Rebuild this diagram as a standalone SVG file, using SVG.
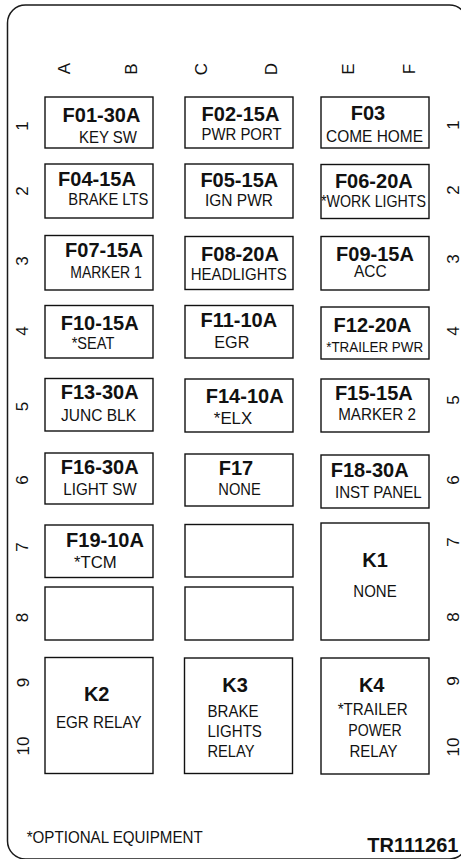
<svg xmlns="http://www.w3.org/2000/svg" width="461" height="859" viewBox="0 0 461 859">
<style>
.bg{fill:#fff}
.frame{fill:#fff;stroke:#1a1a1a;stroke-width:1.5}
.box{fill:#fff;stroke:#111;stroke-width:1.4}
text{font-family:"Liberation Sans",Arial,Helvetica,sans-serif;fill:#111}
.h{font-weight:bold;font-size:20px;text-anchor:middle}
.s{font-size:16.5px;text-anchor:middle}
.ss{font-size:14px;text-anchor:middle}
.l{font-size:16.5px}
.n{font-size:17px;text-anchor:middle}
</style>
<rect class="bg" x="0" y="0" width="461" height="859"/>
<rect class="frame" x="7.5" y="5" width="460" height="854" rx="18" ry="18"/>
<g id="col-labels">
<text class="n" transform="translate(70,68.5) rotate(-90)">A</text>
<text class="n" transform="translate(137,69) rotate(-90)">B</text>
<text class="n" transform="translate(207,69) rotate(-90)">C</text>
<text class="n" transform="translate(277,69) rotate(-90)">D</text>
<text class="n" transform="translate(354,69) rotate(-90)">E</text>
<text class="n" transform="translate(415,69) rotate(-90)">F</text>
</g>
<g id="row-labels-left">
<text class="n" transform="translate(27.5,126) rotate(-90)">1</text>
<text class="n" transform="translate(27.5,191) rotate(-90)">2</text>
<text class="n" transform="translate(27.5,261) rotate(-90)">3</text>
<text class="n" transform="translate(27.5,331) rotate(-90)">4</text>
<text class="n" transform="translate(27.5,406.5) rotate(-90)">5</text>
<text class="n" transform="translate(27.5,480) rotate(-90)">6</text>
<text class="n" transform="translate(27.5,547) rotate(-90)">7</text>
<text class="n" transform="translate(27.5,617.5) rotate(-90)">8</text>
<text class="n" transform="translate(28.5,682.5) rotate(-90)">9</text>
<text class="n" transform="translate(28.5,746) rotate(-90)">10</text>
</g>
<g id="row-labels-right">
<text class="n" transform="translate(458.5,125) rotate(-90)">1</text>
<text class="n" transform="translate(458.5,190) rotate(-90)">2</text>
<text class="n" transform="translate(458.5,259) rotate(-90)">3</text>
<text class="n" transform="translate(458.5,331) rotate(-90)">4</text>
<text class="n" transform="translate(458.5,400) rotate(-90)">5</text>
<text class="n" transform="translate(458.5,480) rotate(-90)">6</text>
<text class="n" transform="translate(458.5,542) rotate(-90)">7</text>
<text class="n" transform="translate(458.5,617) rotate(-90)">8</text>
<text class="n" transform="translate(458.5,681) rotate(-90)">9</text>
<text class="n" transform="translate(458.5,747) rotate(-90)">10</text>
</g>
<g id="F01"><rect class="box" x="45" y="97" width="108" height="51"/><text class="h" x="101.5" y="121.5">F01-30A</text><text class="s" x="108" y="143" textLength="58" lengthAdjust="spacingAndGlyphs">KEY SW</text></g>
<g id="F02"><rect class="box" x="185" y="97" width="108" height="51"/><text class="h" x="240.5" y="120.5">F02-15A</text><text class="s" x="241.5" y="139.5" textLength="80" lengthAdjust="spacingAndGlyphs">PWR PORT</text></g>
<g id="F03"><rect class="box" x="321" y="97" width="108" height="51"/><text class="h" x="368" y="119.5">F03</text><text class="s" x="374.5" y="141.5" textLength="97" lengthAdjust="spacingAndGlyphs">COME HOME</text></g>
<g id="F04"><rect class="box" x="45" y="164" width="108" height="54"/><text class="h" x="97" y="186">F04-15A</text><text class="s" x="108.3" y="205" textLength="80" lengthAdjust="spacingAndGlyphs">BRAKE LTS</text></g>
<g id="F05"><rect class="box" x="185" y="164" width="108" height="54"/><text class="h" x="239.3" y="187.3">F05-15A</text><text class="s" x="239" y="205.7" textLength="68" lengthAdjust="spacingAndGlyphs">IGN PWR</text></g>
<g id="F06"><rect class="box" x="321" y="164.5" width="108" height="54"/><text class="h" x="373.8" y="188.3">F06-20A</text><text class="s" x="373.5" y="206.7" textLength="105" lengthAdjust="spacingAndGlyphs">*WORK LIGHTS</text></g>
<g id="F07"><rect class="box" x="45" y="235.5" width="108" height="54.5"/><text class="h" x="104" y="257.3">F07-15A</text><text class="s" x="106" y="278.3" textLength="71.5" lengthAdjust="spacingAndGlyphs">MARKER 1</text></g>
<g id="F08"><rect class="box" x="185" y="236.5" width="108" height="53"/><text class="h" x="240" y="260.7">F08-20A</text><text class="s" x="238.7" y="280" textLength="96" lengthAdjust="spacingAndGlyphs">HEADLIGHTS</text></g>
<g id="F09"><rect class="box" x="321" y="236.5" width="108" height="53.5"/><text class="h" x="375" y="260.7">F09-15A</text><text class="s" x="370.3" y="277.3" textLength="32.7" lengthAdjust="spacingAndGlyphs">ACC</text></g>
<g id="F10"><rect class="box" x="45" y="305.5" width="108" height="52.5"/><text class="h" x="99.7" y="330">F10-15A</text><text class="s" x="93" y="349.3" textLength="42.6" lengthAdjust="spacingAndGlyphs">*SEAT</text></g>
<g id="F11"><rect class="box" x="185" y="305.5" width="108" height="52.5"/><text class="h" x="238.8" y="327.3">F11-10A</text><text class="s" x="231.8" y="348.3" textLength="35" lengthAdjust="spacingAndGlyphs">EGR</text></g>
<g id="F12"><rect class="box" x="321" y="307" width="108" height="52"/><text class="h" x="372.5" y="331.7">F12-20A</text><text class="ss" x="374.7" y="351.7" textLength="97" lengthAdjust="spacingAndGlyphs">*TRAILER PWR</text></g>
<g id="F13"><rect class="box" x="45" y="378.5" width="108" height="52.5"/><text class="h" x="99.7" y="399.3">F13-30A</text><text class="s" x="98.5" y="420.7" textLength="75" lengthAdjust="spacingAndGlyphs">JUNC BLK</text></g>
<g id="F14"><rect class="box" x="185" y="379" width="108" height="53"/><text class="h" x="244.7" y="402.7">F14-10A</text><text class="s" x="233" y="424" textLength="38.3" lengthAdjust="spacingAndGlyphs">*ELX</text></g>
<g id="F15"><rect class="box" x="321" y="379" width="108" height="53"/><text class="h" x="373.8" y="400">F15-15A</text><text class="s" x="377" y="420" textLength="77.7" lengthAdjust="spacingAndGlyphs">MARKER 2</text></g>
<g id="F16"><rect class="box" x="45" y="453" width="108" height="51"/><text class="h" x="99.7" y="474">F16-30A</text><text class="s" x="100" y="495" textLength="73.4" lengthAdjust="spacingAndGlyphs">LIGHT SW</text></g>
<g id="F17"><rect class="box" x="185" y="454" width="108" height="52"/><text class="h" x="236" y="475">F17</text><text class="s" x="239.5" y="495" textLength="42.4" lengthAdjust="spacingAndGlyphs">NONE</text></g>
<g id="F18"><rect class="box" x="321" y="455" width="108" height="53"/><text class="h" x="369.7" y="476.7">F18-30A</text><text class="s" x="378.3" y="498.3" textLength="86.7" lengthAdjust="spacingAndGlyphs">INST PANEL</text></g>
<g id="F19"><rect class="box" x="45" y="525" width="108" height="52.5"/><text class="h" x="105" y="546.7">F19-10A</text><text class="s" x="95.3" y="568.3" textLength="42.7" lengthAdjust="spacingAndGlyphs">*TCM</text></g>
<g id="C7"><rect class="box" x="185" y="524.5" width="108" height="52.5"/></g>
<g id="A8"><rect class="box" x="45" y="587" width="108" height="53"/></g>
<g id="C8"><rect class="box" x="185" y="587" width="108" height="53"/></g>
<g id="K1"><rect class="box" x="321" y="523" width="108" height="117"/><text class="h" x="375" y="566.7">K1</text><text class="s" x="375" y="597.3" textLength="43.3" lengthAdjust="spacingAndGlyphs">NONE</text></g>
<g id="K2"><rect class="box" x="45" y="657.5" width="108" height="116"/><text class="h" x="96.7" y="700.7">K2</text><text class="s" x="98.8" y="728.3" textLength="85.7" lengthAdjust="spacingAndGlyphs">EGR RELAY</text></g>
<g id="K3"><rect class="box" x="184.5" y="658" width="108" height="115.5"/><text class="h" x="235" y="691.7">K3</text><text class="l" x="207.5" y="717.3" textLength="51" lengthAdjust="spacingAndGlyphs">BRAKE</text><text class="l" x="207.5" y="737.3" textLength="54.4" lengthAdjust="spacingAndGlyphs">LIGHTS</text><text class="l" x="207.5" y="757.3" textLength="47" lengthAdjust="spacingAndGlyphs">RELAY</text></g>
<g id="K4"><rect class="box" x="321" y="658" width="108" height="116"/><text class="h" x="371.7" y="691.7">K4</text><text class="s" x="372.7" y="715" textLength="70" lengthAdjust="spacingAndGlyphs">*TRAILER</text><text class="s" x="375" y="736" textLength="53.4" lengthAdjust="spacingAndGlyphs">POWER</text><text class="s" x="373.5" y="756.7" textLength="48" lengthAdjust="spacingAndGlyphs">RELAY</text></g>
<g id="connectors"></g>
<g id="footer">
<text style="font-size:16.5px" x="26.7" y="843.3" textLength="176" lengthAdjust="spacingAndGlyphs">*OPTIONAL EQUIPMENT</text>
<text style="font-size:20px;font-weight:bold;text-anchor:end" x="458.5" y="851.7">TR111261</text>
</g>
</svg>
